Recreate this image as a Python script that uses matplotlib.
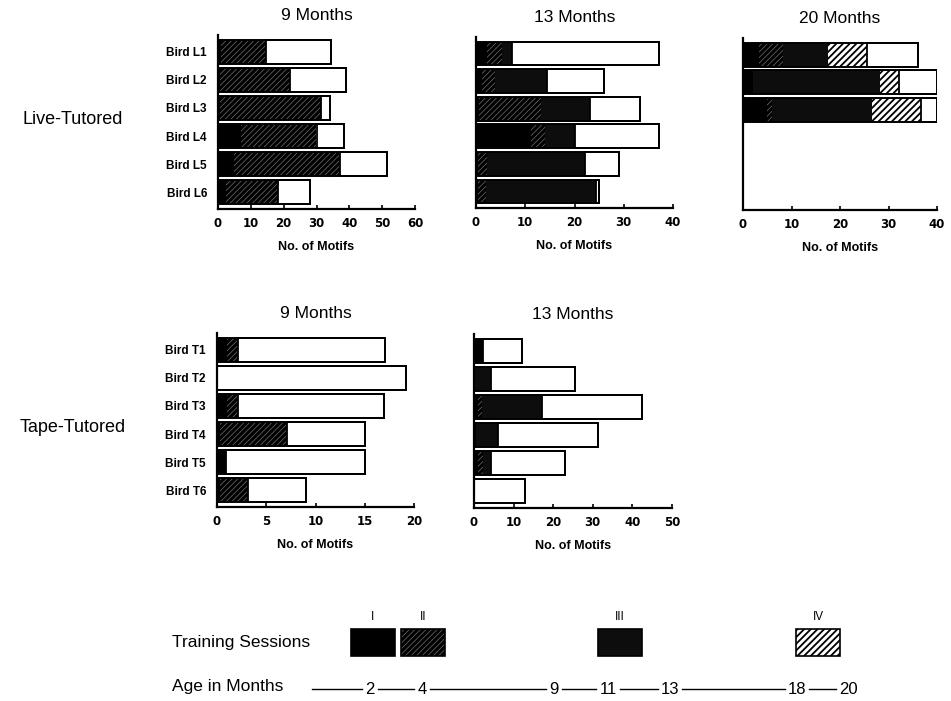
import numpy as np
import matplotlib.pyplot as plt
from matplotlib.patches import Rectangle

plt.rcParams['font.family'] = ['Liberation Sans', 'DejaVu Sans']
plt.rcParams['hatch.linewidth'] = 0.6

# segment order: session I, II, III, IV, unmatched
live_birds = ['Bird L1', 'Bird L2', 'Bird L3', 'Bird L4', 'Bird L5', 'Bird L6']
tape_birds = ['Bird T1', 'Bird T2', 'Bird T3', 'Bird T4', 'Bird T5', 'Bird T6']

live_9_I = [1.0, 0.5, 0.5, 7.0, 5.0, 2.5]
live_9_II = [13.5, 21.5, 31.0, 23.0, 32.3, 15.8]
live_9_none = [19.8, 17.0, 2.5, 8.5, 14.2, 9.7]

live_13_I = [2.2, 1.3, 0.7, 11.2, 0.5, 0.5]
live_13_II = [3.1, 2.5, 12.5, 2.8, 1.7, 1.5]
live_13_III = [2.1, 10.6, 10.0, 6.2, 20.0, 22.4]
live_13_none = [29.8, 11.6, 10.1, 16.9, 6.8, 0.6]

live_20_I = [3.2, 2.0, 5.0]
live_20_II = [5.0, 0.0, 1.0]
live_20_III = [9.3, 26.2, 20.6]
live_20_IV = [8.0, 4.0, 10.2]
live_20_none = [10.5, 7.8, 3.2]

tape_9_I = [1.0, 0.0, 1.0, 0.3, 0.9, 0.3]
tape_9_II = [1.1, 0.0, 1.1, 6.8, 0.0, 2.8]
tape_9_none = [15.0, 19.2, 14.9, 7.9, 14.1, 5.9]

tape_13_I = [2.2, 0.0, 1.0, 0.5, 1.0, 0.0]
tape_13_II = [0.0, 0.0, 1.0, 0.0, 1.2, 0.0]
tape_13_III = [0.0, 4.2, 15.1, 5.6, 2.0, 0.0]
tape_13_none = [10.0, 21.2, 25.2, 25.1, 18.9, 13.0]

session_names = ['I', 'II', 'III', 'IV']
age_months = ['2', '4', '9', '11', '13', '18', '20']

W, H = 951, 701
fig = plt.figure(figsize=(W / 100, H / 100), dpi=100)

# style of each session fill: (facecolor, hatch, hatch colour, hatch width)
styles = [('black', None, 'black', 0.6),
          ('black', '//////', '#707070', 0.5),
          ('#0d0d0d', None, '#0d0d0d', 0.6),
          ('white', '/////', 'black', 1.3),
          ('white', None, 'white', 0.6)]
zeros = [0] * 6


def set_hw(patches, hw):
    for p in patches:
        if hasattr(p, 'set_hatch_linewidth'):
            p.set_hatch_linewidth(hw)


def px_axes(l, t, r, b):
    return fig.add_axes([l / W, 1 - b / H, (r - l) / W, (b - t) / H])


def panel(ax, segments, labels, xmax, step, title, show_labels=True):
    y = np.arange(len(segments[0]))
    left = np.zeros(len(y))
    for vals, (fc, hatch, hc, hw) in zip(segments, styles):
        vals = np.asarray(vals, dtype=float)
        with plt.rc_context({'hatch.linewidth': hw}):
            bars = ax.barh(y, vals, left=left, height=0.86, color=fc,
                           hatch=hatch, edgecolor=hc, linewidth=0)
        set_hw(bars, hw)
        left = left + vals
    # outline of the unmatched (white) part and the whole bar
    dark = left - np.asarray(segments[-1], dtype=float)
    ax.barh(y, left - dark, left=dark, height=0.86, fill=False,
            edgecolor='black', linewidth=1.3)
    ax.barh(y, left, height=0.86, fill=False, edgecolor='black', linewidth=1.4)
    ax.set_ylim(5.6, -0.6)
    ax.set_xlim(0, xmax)
    ax.set_xticks(np.arange(0, xmax + 1, step))
    ax.tick_params(axis='x', direction='in', length=3, width=1.2, pad=6)
    for t in ax.get_xticklabels():
        t.set_fontweight('bold')
        t.set_fontfamily('DejaVu Sans')
        t.set_fontsize(8.5)
    if show_labels:
        ax.set_yticks(y)
        ax.set_yticklabels(labels, fontsize=8.5, fontweight='bold')
        ax.tick_params(axis='y', length=0, pad=8)
    else:
        ax.set_yticks([])
    for s in ['top', 'right']:
        ax.spines[s].set_visible(False)
    ax.spines['left'].set_linewidth(1.6)
    ax.spines['bottom'].set_linewidth(1.6)
    ax.set_xlabel('No. of Motifs', fontsize=9, fontweight='bold', labelpad=8)
    ax.set_title(title, fontsize=12.5, pad=11)


ax1 = px_axes(218, 35, 415, 209)
panel(ax1, [live_9_I, live_9_II, zeros, zeros, live_9_none],
      live_birds, 60, 10, '9 Months')

ax2 = px_axes(476, 37, 673, 208)
panel(ax2, [live_13_I, live_13_II, live_13_III, zeros, live_13_none],
      live_birds, 40, 10, '13 Months', show_labels=False)

ax3 = px_axes(743, 38, 937, 210)
panel(ax3, [live_20_I, live_20_II, live_20_III, live_20_IV, live_20_none],
      live_birds, 40, 10, '20 Months', show_labels=False)

ax4 = px_axes(217, 333, 414, 507)
panel(ax4, [tape_9_I, tape_9_II, zeros, zeros, tape_9_none],
      tape_birds, 20, 5, '9 Months')

ax5 = px_axes(474, 334, 672, 508)
panel(ax5, [tape_13_I, tape_13_II, tape_13_III, zeros, tape_13_none],
      tape_birds, 50, 10, '13 Months', show_labels=False)

fig.text(22 / W, 1 - 120 / H, 'Live-Tutored', fontsize=13, va='center')
fig.text(20 / W, 1 - 428 / H, 'Tape-Tutored', fontsize=13, va='center')

# training session legend and age timeline
lax = fig.add_axes([0, 0, 1, 1])
lax.set_xlim(0, W)
lax.set_ylim(H, 0)
lax.axis('off')

lax.text(172, 642, 'Training Sessions', fontsize=12.5, va='center')
lax.text(172, 687, 'Age in Months', fontsize=12.5, va='center')

box_left = [351, 401, 598, 796]
for name, bl, (fc, hatch, hc, hw) in zip(session_names, box_left, styles[:4]):
    with plt.rc_context({'hatch.linewidth': hw}):
        box = Rectangle((bl, 629), 44, 27, facecolor=fc, hatch=hatch,
                        edgecolor=hc, linewidth=0)
        lax.add_patch(box)
    set_hw([box], hw)
    lax.add_patch(Rectangle((bl, 629), 44, 27, fill=False,
                            edgecolor='black', linewidth=1.2))
    lax.text(bl + 22, 617, name, fontsize=8.5, ha='center', va='center')

age_x = [370, 422, 554, 608, 670, 797, 848]
seg_start = 312
for lab, ax_ in zip(age_months, age_x):
    half = 5 if len(lab) == 1 else 9
    lax.plot([seg_start, ax_ - half - 3], [689, 689], color='black', lw=1)
    lax.text(ax_, 689, lab, fontsize=12, ha='center', va='center')
    seg_start = ax_ + half + 3

fig.savefig('out.png', dpi=100)
